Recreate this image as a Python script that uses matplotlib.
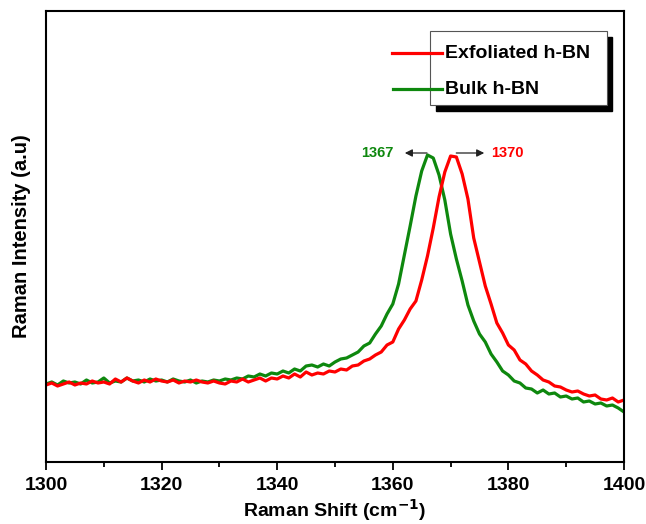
import numpy as np
import matplotlib.pyplot as plt
from matplotlib.patches import Rectangle

plt.rcParams['font.family'] = ['Liberation Sans', 'DejaVu Sans']

# Raman shift (cm-1), one point per wavenumber
shift = np.arange(1300, 1401)

bulk = [78, 80, 77, 81, 79, 80, 78, 82, 79, 80,
        84, 79, 81, 80, 84, 81, 82, 80, 83, 81,
        82, 80, 83, 81, 80, 82, 79, 81, 80, 82,
        81, 83, 82, 84, 83, 86, 85, 88, 86, 89,
        88, 91, 89, 93, 91, 96, 97, 95, 98, 96,
        100, 103, 104, 107, 110, 116, 119, 128, 136, 148,
        158, 178, 207, 236, 266, 291, 307, 304, 287, 262,
        228, 203, 181, 157, 141, 128, 120, 108, 100, 91,
        87, 81, 79, 74, 73, 69, 72, 68, 69, 65,
        66, 63, 64, 60, 61, 58, 59, 56, 57, 54,
        50]

exfoliated = [77, 79, 76, 78, 80, 77, 79, 78, 81, 79,
              80, 78, 83, 80, 84, 81, 79, 82, 80, 83,
              81, 80, 82, 79, 81, 80, 82, 80, 79, 81,
              79, 78, 81, 80, 83, 80, 82, 84, 81, 84,
              83, 86, 84, 88, 85, 90, 87, 89, 88, 91,
              90, 93, 92, 96, 97, 101, 103, 107, 110, 117,
              120, 133, 142, 153, 161, 182, 206, 234, 265, 290,
              306, 305, 288, 263, 224, 200, 176, 158, 139, 129,
              117, 112, 102, 98, 91, 87, 82, 80, 76, 75,
              72, 70, 71, 68, 66, 67, 63, 62, 64, 60,
              62]

series_names = ['Exfoliated h-BN', 'Bulk h-BN']
peak_bulk = 1367
peak_exf = 1370

red = '#ff0000'
green = '#0e880e'

fig = plt.figure(figsize=(6.46, 5.24), dpi=100)
ax = fig.add_axes([46/646, 62/524, 578/646, 451/524])

ax.plot(shift, bulk, color=green, lw=2.3, solid_joinstyle='round')
ax.plot(shift, exfoliated, color=red, lw=2.3, solid_joinstyle='round')

ax.set_xlim(1300, 1400)
ax.set_ylim(0, 451)
ax.set_xticks(np.arange(1300, 1401, 20))
ax.set_xticks(np.arange(1310, 1400, 20), minor=True)
ax.set_yticks([])
ax.tick_params(axis='x', which='major', direction='out', length=6, width=1.3,
               labelsize=14, pad=5)
ax.tick_params(axis='x', which='minor', direction='out', length=3.5, width=1.3)
for lbl in ax.get_xticklabels():
    lbl.set_fontweight('bold')
for s in ax.spines.values():
    s.set_linewidth(1.5)

ax.set_xlabel('Raman Shift (cm$^{\\mathbf{-1}}$)', fontsize=14, fontweight='bold', labelpad=2)
ax.set_ylabel('Raman Intensity (a.u)', fontsize=14.5, fontweight='bold', labelpad=11)

# peak markers
ax.annotate('', xy=(1361.6, 309), xytext=(1366.4, 309),
            arrowprops=dict(arrowstyle='-|>', color='#222222', lw=0.9, mutation_scale=11))
ax.annotate('', xy=(1376.3, 309), xytext=(1370.5, 309),
            arrowprops=dict(arrowstyle='-|>', color='#222222', lw=0.9, mutation_scale=11))
ax.text(1360.2, 309, str(peak_bulk), color=green, fontsize=10.5, fontweight='bold',
        ha='right', va='center')
ax.text(1377.0, 309, str(peak_exf), color=red, fontsize=10.5, fontweight='bold',
        ha='left', va='center')

# Origin-style legend with shadow
ax.add_patch(Rectangle((0.675, 0.778), 0.305, 0.165, transform=ax.transAxes,
                       facecolor='black', edgecolor='black', zorder=4))
ax.add_patch(Rectangle((0.664, 0.792), 0.307, 0.164, transform=ax.transAxes,
                       facecolor='white', edgecolor='#555555', lw=0.8, zorder=5))
ax.plot([0.599, 0.685], [0.907, 0.907], color=red, lw=2.3, transform=ax.transAxes, zorder=6)
ax.plot([0.601, 0.685], [0.827, 0.827], color=green, lw=2.3, transform=ax.transAxes, zorder=6)
ax.text(0.69, 0.905, series_names[0], transform=ax.transAxes, fontsize=14,
        fontweight='bold', va='center', ha='left', zorder=7)
ax.text(0.69, 0.825, series_names[1], transform=ax.transAxes, fontsize=14,
        fontweight='bold', va='center', ha='left', zorder=7)

plt.savefig('out.png', dpi=100)
plt.close()
